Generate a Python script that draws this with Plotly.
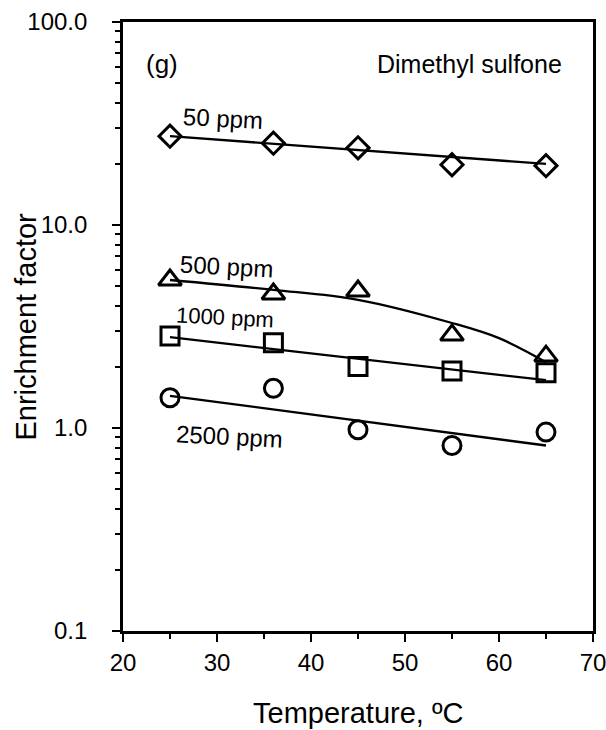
import plotly.graph_objects as go

# ---- data ----
temps = [25, 36, 45, 55, 65]
ef_50 = [27.4, 25.3, 24.0, 19.8, 19.6]
ef_500 = [5.36, 4.57, 4.73, 2.87, 2.26]
ef_1000 = [2.84, 2.63, 2.01, 1.91, 1.87]
ef_2500 = [1.41, 1.57, 0.98, 0.82, 0.955]

# fitted trend lines
fit_t_lin = [25, 65]
fit_50 = [27.4, 20.0]
fit_1000 = [2.80, 1.72]
fit_2500 = [1.44, 0.82]
fit_t_500 = [25, 36, 45, 55, 60, 65]
fit_500 = [5.36, 4.79, 4.28, 3.29, 2.77, 2.11]

series_labels = ["50 ppm", "500 ppm", "1000 ppm", "2500 ppm"]
y_tick_vals = [0.1, 1, 10, 100]
y_tick_text = ["0.1", "1.0", "10.0", "100.0"]
x_tick_vals = [20, 30, 40, 50, 60, 70]

FONT = "Liberation Sans, Arial, sans-serif"
BLACK = "#000000"

fig = go.Figure()

def add_fit(x, y, shape="linear"):
    fig.add_trace(go.Scatter(x=x, y=y, mode="lines",
                             line=dict(color=BLACK, width=2.3, shape=shape),
                             hoverinfo="skip", showlegend=False))

add_fit(fit_t_lin, fit_50)
add_fit(fit_t_500, fit_500, shape="spline")
add_fit(fit_t_lin, fit_1000)
add_fit(fit_t_lin, fit_2500)

def add_pts(y, symbol, size):
    fig.add_trace(go.Scatter(x=temps, y=y, mode="markers",
                             marker=dict(symbol=symbol, size=size, color=BLACK,
                                         line=dict(color=BLACK, width=3)),
                             showlegend=False))

add_pts(ef_50, "diamond-open", 17)
add_pts(ef_500, "triangle-up-open", 20)
add_pts(ef_1000, "square-open", 18)
add_pts(ef_2500, "circle-open", 18)

minor_y = [m * 10 ** e for e in (-1, 0, 1) for m in range(2, 10)]

fig.update_layout(
    width=606, height=730,
    margin=dict(l=123, r=13, t=22, b=99),
    paper_bgcolor="white", plot_bgcolor="white",
    font=dict(family=FONT, color=BLACK),
    xaxis=dict(range=[20, 70], tickvals=x_tick_vals, ticks="outside",
               ticklen=8, tickwidth=2, tickcolor=BLACK, automargin=False,
               ticklabeloverflow="allow",
               showline=True, linewidth=2.7, linecolor=BLACK, mirror=True,
               showgrid=False, zeroline=False,
               tickfont=dict(size=24, family=FONT, color=BLACK),
               minor=dict(tickvals=[25, 35, 45, 55, 65], ticks="outside",
                          ticklen=5, tickwidth=2, tickcolor=BLACK, showgrid=False)),
    yaxis=dict(type="log", range=[-1, 2], tickvals=y_tick_vals, ticktext=y_tick_text,
               ticks="outside", ticklen=8, tickwidth=2, tickcolor=BLACK, automargin=False,
               ticklabeloverflow="allow",
               showline=True, linewidth=2.7, linecolor=BLACK, mirror=True,
               showgrid=False, zeroline=False, ticklabelstandoff=20,
               tickfont=dict(size=24, family=FONT, color=BLACK),
               minor=dict(tickvals=minor_y, ticks="outside", ticklen=5,
                          tickwidth=2, tickcolor=BLACK, showgrid=False)),
)

# in-plot labels
label_pos = [(30.6, 1.527, 24), (31.0, 0.798, 24), (30.85, 0.542, 22), (31.3, -0.044, 24)]
for text, (lx, ly, fs) in zip(series_labels, label_pos):
    fig.add_annotation(x=lx, y=ly, xref="x", yref="y", text=text, showarrow=False,
                       textangle=3, font=dict(size=fs, family=FONT, color=BLACK),
                       xanchor="center", yanchor="middle")

fig.add_annotation(x=24.15, y=1.793, xref="x", yref="y", text="(g)", showarrow=False,
                   font=dict(size=26, family=FONT, color=BLACK))
fig.add_annotation(x=56.9, y=1.793, xref="x", yref="y", text="Dimethyl sulfone",
                   showarrow=False, font=dict(size=25, family=FONT, color=BLACK))

# axis titles
fig.add_annotation(x=0.5, y=-0.1346, xref="paper", yref="paper",
                   text="Temperature, ºC", showarrow=False,
                   xanchor="center", yanchor="middle",
                   font=dict(size=29, family=FONT, color=BLACK))
fig.add_annotation(x=-0.2085, y=0.5, xref="paper", yref="paper",
                   text="Enrichment factor", showarrow=False, textangle=-90,
                   xanchor="center", yanchor="middle",
                   font=dict(size=29, family=FONT, color=BLACK))

fig.write_html("out.html", config={"displayModeBar": False},
               post_script="document.body.style.margin='0';"
                           "document.body.style.overflow='hidden';")
